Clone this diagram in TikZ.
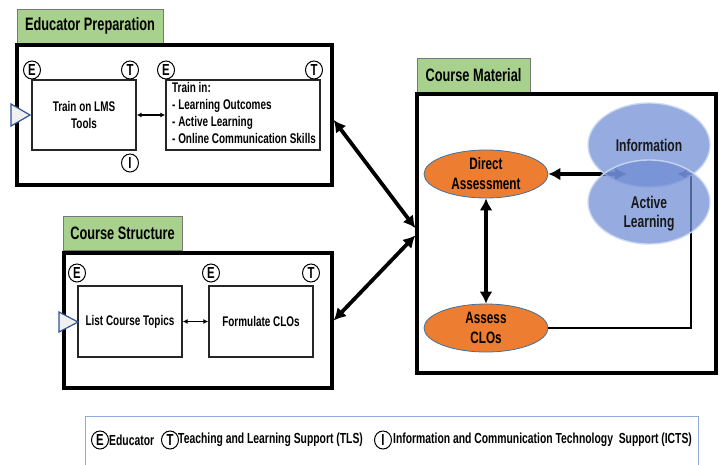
\documentclass[tikz,border=0pt]{standalone}
\usepackage{fontspec}
\setmainfont{Liberation Sans}[FakeStretch=0.71]
\usetikzlibrary{arrows.meta,shapes.geometric}

\definecolor{titlegreen}{RGB}{169,209,142}
\definecolor{titleedge}{RGB}{120,120,120}
\definecolor{assessorange}{RGB}{237,125,49}
\definecolor{assessedge}{RGB}{65,113,156}
\definecolor{learnblue}{RGB}{110,140,212}
\definecolor{learnrim}{RGB}{205,218,242}
\definecolor{tribluedge}{RGB}{47,85,151}
\definecolor{legendedge}{RGB}{143,170,220}

\tikzset{
  grouptitle/.style={draw=titleedge, fill=titlegreen, line width=0.8pt,
    font=\bfseries\fontsize{18}{20}\selectfont, inner sep=0pt},
  groupframe/.style={draw=black, line width=3.4pt, inner sep=0pt},
  stepbox/.style={draw=black!85, line width=1.4pt, fill=white, inner sep=0pt,
    font=\bfseries\fontsize{14}{17}\selectfont, align=center},
  badge/.style={ellipse, draw=black, line width=1pt, fill=white, inner sep=0pt,
    minimum width=17pt, minimum height=18pt, font=\bfseries\fontsize{16}{16}\selectfont},
  assessoval/.style={ellipse, draw=assessedge, line width=0.8pt, fill=assessorange,
    minimum width=124pt, minimum height=48pt, inner sep=0pt, align=center,
    font=\bfseries\fontsize{16.5}{20}\selectfont},
  learnoval/.style={ellipse, draw=learnrim, line width=1.4pt, fill=learnblue,
    fill opacity=0.72, draw opacity=0.9, minimum width=122pt, minimum height=84pt, inner sep=0pt},
  ovaltext/.style={align=center, font=\bfseries\fontsize{17}{19}\selectfont, text=black!90},
  entry/.style={tribluedge, fill=white!88!gray, line width=1.2pt, line join=miter},
  smallarrow/.style={{Latex[length=5pt,width=5pt]}-{Latex[length=5pt,width=5pt]}, line width=1.1pt},
  bigarrow/.style={{Latex[length=12pt,width=13pt]}-{Latex[length=12pt,width=13pt]}, line width=3.8pt},
  looparrow/.style={-{Latex[length=10pt,width=10pt]}, line width=2.8pt},
  legendtext/.style={anchor=west, inner sep=0pt, font=\bfseries\fontsize{14.6}{16}\selectfont}
}

\begin{document}
\begin{tikzpicture}[x=1pt, y=-1pt]
\useasboundingbox (0,0) rectangle (722,464);
\clip (0,0) rectangle (722,464);

% ---------- Educator Preparation ----------
\node[grouptitle, minimum width=146pt, minimum height=34pt] (eptitle) at (90,26) {Educator Preparation};
\node[groupframe, minimum width=315pt, minimum height=140pt] (ep) at (174.5,115) {};
\node[stepbox, minimum width=104pt, minimum height=70pt] (lms) at (84,115) {Train on LMS\\Tools};
\node[stepbox, minimum width=154pt, minimum height=70pt] (trainin) at (243,115) {};
\node[anchor=north west, inner sep=0pt, align=left,
      font=\bfseries\fontsize{14}{17.2}\selectfont] (trainintext) at (172,82)
  {Train in:\\- Learning Outcomes\\- Active Learning\\- Online Communication Skills};
\draw[smallarrow] (lms.east) -- (trainin.west);
\node[badge] (lmsE) at (32,70) {E};
\node[badge] (lmsT) at (130,70) {T};
\node[badge] (lmsI) at (130,163) {I};
\node[badge] (trainE) at (166,70) {E};
\node[badge] (trainT) at (314,70) {T};
\filldraw[entry] (11,104) -- (30,115) -- (11,126) -- cycle;

% ---------- Course Structure ----------
\node[grouptitle, minimum width=119pt, minimum height=34pt] (cstitle) at (122.5,233) {Course Structure};
\node[groupframe, minimum width=268pt, minimum height=135pt] (cs) at (198,320.5) {};
\node[stepbox, minimum width=104pt, minimum height=71pt] (topics) at (130,321.5) {List Course Topics};
\node[stepbox, minimum width=104pt, minimum height=71pt] (clos) at (261,321.5) {Formulate CLOs};
\draw[smallarrow] (topics.east) -- (clos.west);
\node[badge] (topicsE) at (77,273) {E};
\node[badge] (closE) at (211,273) {E};
\node[badge] (closT) at (311,273) {T};
\filldraw[entry] (59,312) -- (78,322) -- (59,332) -- cycle;

% ---------- Course Material ----------
\node[grouptitle, minimum width=113pt, minimum height=34pt] (cmtitle) at (473.5,75) {Course Material};
\node[groupframe, minimum width=299pt, minimum height=279pt] (cm) at (566.5,233.5) {};

% links between the groups
\draw[bigarrow] ([yshift=-5pt]ep.east) -- ([yshift=5.5pt]cm.west);
\draw[bigarrow] ([yshift=-2pt]cm.west) -- (cs.east);

\node[assessoval] (da) at (486,174) {Direct\\Assessment};
\node[assessoval] (ac) at (486,328) {Assess\\CLOs};
\draw[bigarrow] (da.south) -- (ac.north);

\coordinate (infoIn) at (627,174);
\coordinate (loopTop) at (691,174);
\coordinate (alIn) at (677,174);
\draw[bigarrow] (da.east) -- (infoIn);
\draw[looparrow] (ac.east) -| (loopTop) -- (alIn);

\node[learnoval] (info) at (649,145) {};
\node[learnoval] (al) at (649,202) {};
\node[ovaltext] (infotext) at (649,145) {Information};
\node[ovaltext] (altext) at (649,214) {Active\\Learning};

% ---------- Legend ----------
\draw[legendedge, line width=0.8pt] (85,470) -- (85,416) -- (698,416) -- (698,470);
\node[badge] (legE) at (100,440) {E};
\node[legendtext] (legEtext) at (109,440) {Educator};
\node[badge] (legT) at (170,440) {T};
\node[legendtext] (legTtext) at (178,440) {Teaching and Learning Support (TLS)};
\node[badge] (legI) at (383,440) {I};
\node[legendtext] (legItext) at (393,440) {Information and Communication Technology\ \ Support (ICTS)};
\end{tikzpicture}
\end{document}
